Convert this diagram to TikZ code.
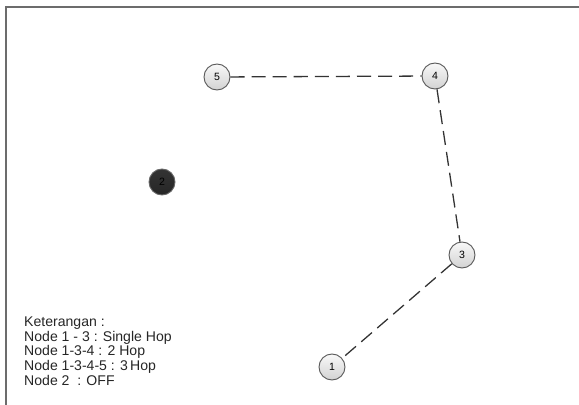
\documentclass[tikz,border=0pt]{standalone}
\usepackage{fontspec}
\setmainfont{Liberation Sans}
\usepackage{tikz}
\usetikzlibrary{positioning}

\begin{document}
\begin{tikzpicture}[
    x=0.03cm, y=-0.03cm,
    nd/.style={draw=gray!70!black, thick, circle, minimum size=0.78cm, inner sep=0pt,
        top color=gray!5, bottom color=gray!35, font=\small},
    off/.style={nd, draw=black!60, top color=black!80, bottom color=black!85, text=black},
    link/.style={line width=1.1pt, black!80, dash pattern=on 12pt off 6pt},
]
\useasboundingbox (0,0) rectangle (579,405);

% Frame
\draw[line width=1.2pt, gray!85!black] (6,405) -- (6,7) -- (579,7);

% Nodes
\node[nd] (n5) at (217,77) {5};
\node[nd] (n4) at (435,76) {4};
\node[off] (n2) at (162,182) {2};
\node[nd] (n3) at (462,255) {3};
\node[nd] (n1) at (332,367) {1};

% Links
\draw[link] (n5) -- (n4);
\draw[link] (n4) -- (n3);
\draw[link] (n3) -- (n1);

% Legend
\node[anchor=north west, align=left, inner sep=0pt, font=\fontsize{12pt}{12.4pt}\selectfont, text=black!85]
    (legend) at (24,317) {Keterangan :\\Node 1 - 3 : Single Hop\\Node 1-3-4 : 2 Hop\\Node 1-3-4-5 : 3\,Hop\\Node 2\ \ : OFF};
\end{tikzpicture}
\end{document}
